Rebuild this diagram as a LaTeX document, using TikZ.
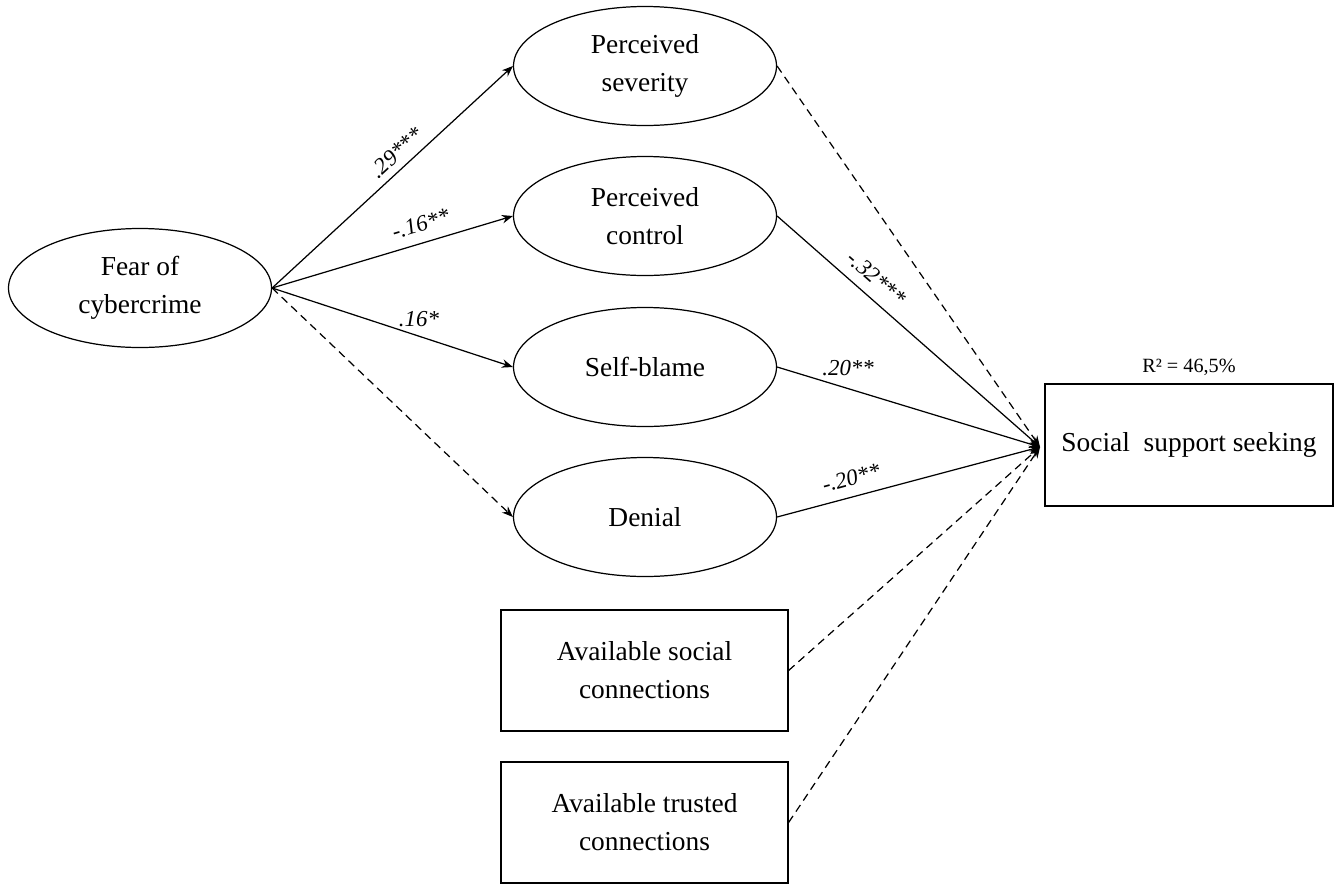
\documentclass[tikz,border=0pt]{standalone}
\usepackage{fontspec}
\setmainfont{Liberation Serif}
\usetikzlibrary{shapes.geometric, arrows.meta, positioning}

\begin{document}
\begin{tikzpicture}[
  font=\fontsize{15.6}{21.6}\selectfont,
  latent/.style={draw, ellipse, line width=0.7pt, minimum width=5.26cm,
                 minimum height=2.38cm, inner sep=0pt, align=center},
  obs/.style={draw, rectangle, line width=0.7pt, minimum width=5.74cm,
              minimum height=2.42cm, inner sep=0pt, align=center},
  coef/.style={font=\fontsize{13}{15}\selectfont\itshape, inner sep=1pt},
  arr/.style={-{Stealth[length=2.2mm, width=1.7mm]}, line width=0.7pt},
  dasharr/.style={arr, dash pattern=on 4.5pt off 3pt},
]
\useasboundingbox (0,0) rectangle (26.84,-17.66);

%% Predictor
\node[latent] (fear) at (2.8, -5.76) {Fear of\\cybercrime};

%% Mediators
\node[latent] (sev) at (12.9, -1.32) {Perceived\\severity};
\node[latent] (ctrl) at (12.9, -4.32) {Perceived\\control};
\node[latent] (blame) at (12.9, -7.34) {Self-blame};
\node[latent] (denial) at (12.9, -10.34) {Denial};

%% Controls
\node[obs] (social) at (12.89, -13.41) {Available social\\connections};
\node[obs] (trusted) at (12.89, -16.45) {Available trusted\\connections};

%% Outcome
\node[obs, minimum width=5.76cm, minimum height=2.44cm] (seek) at (23.78, -8.9)
  {Social \ support seeking};
\node[font=\fontsize{11.5}{14}\selectfont] (rsq) at (23.78, -7.34) {R² = 46,5\%};
\coordinate (conv) at (20.8, -8.94);

%% a paths
\draw[arr] (fear.east) -- node[coef, sloped, above=3pt, pos=0.56] (c1) {.29***} (sev.west);
\draw[arr] (fear.east) -- node[coef, sloped, above=5pt, pos=0.64] (c2) {-.16**} (ctrl.west);
\draw[arr] (fear.east) -- node[coef, above=4pt, pos=0.61] (c3) {.16*} (blame.west);
\draw[dasharr] (fear.east) -- (denial.west);

%% b paths
\draw[dasharr] (sev.east) -- (conv);
\draw[arr] (ctrl.east) -- node[coef, sloped, above=5pt, pos=0.33] (c4) {-.32***} (conv);
\draw[arr] (blame.east) -- node[coef, above=6pt, pos=0.27] (c5) {.20**} (conv);
\draw[arr] (denial.east) -- node[coef, sloped, above=5pt, pos=0.3] (c6) {-.20**} (conv);
\draw[dasharr] (social.east) -- (conv);
\draw[dasharr] (trusted.east) -- (conv);

\end{tikzpicture}
\end{document}
